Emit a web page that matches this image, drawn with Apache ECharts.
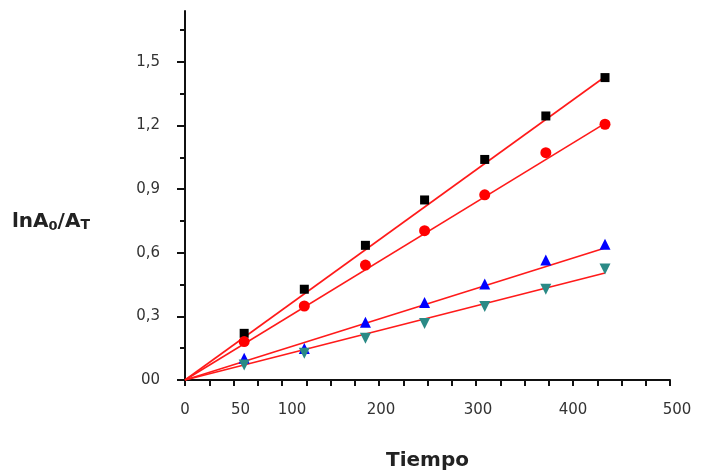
<!DOCTYPE html>
<html>
<head>
<meta charset="utf-8">
<script src="https://cdn.jsdelivr.net/npm/echarts@6/dist/echarts.min.js"></script>
<style>html,body{margin:0;padding:0;background:#fff}#c{width:712px;height:472px}</style>
</head>
<body>
<div id="c"></div>
<script>
const times = [61, 123, 186, 247, 309, 372, 433];
const seriesSquare = [0.22, 0.428, 0.635, 0.849, 1.04, 1.245, 1.426];
const seriesCircle = [0.181, 0.349, 0.542, 0.704, 0.873, 1.072, 1.206];
const seriesTriUp = [0.102, 0.149, 0.272, 0.366, 0.453, 0.566, 0.64];
const seriesTriDown = [0.071, 0.126, 0.197, 0.267, 0.346, 0.428, 0.524];
const fitX = [0, 433];
const fit1 = [0, 1.43];
const fit2 = [0, 1.21];
const fit3 = [0, 0.622];
const fit4 = [0, 0.505];
const xTickValues = [0,25,50,75,100,125,150,175,200,225,250,275,300,325,350,375,400,425,450,475,500];
const xLabelValues = [0, 50, 100, 200, 300, 400, 500];
const yMajorTicks = [0, 0.3, 0.6, 0.9, 1.2, 1.5];
const yMinorTicks = [0.15, 0.45, 0.75, 1.05, 1.35, 1.65];
const yLabels = ['00', '0,3', '0,6', '0,9', '1,2', '1,5'];

const zip = (xs, ys) => xs.map((x, i) => [x, ys[i]]);
const chart = echarts.init(document.getElementById('c'));
const font = 'DejaVu Sans';
const fitStyle = { color: '#ff1a1a', width: 1.6 };
// label nudges mimic the reference's slightly offset tick labels
const xShift = { 0: 0, 50: 14, 100: 20, 200: 4, 300: 4, 400: 0, 500: 14 };
const xLabelRich = {};
Object.keys(xShift).forEach(k => {
  xLabelRich['l' + k] = { fontFamily: font, fontSize: 15, color: '#333', padding: [0, 0, 0, xShift[k]] };
});
chart.setOption({
  animation: false,
  grid: { left: 185, right: 42, top: 11, bottom: 92 },
  xAxis: {
    type: 'value', min: 0, max: 500,
    axisLine: { show: true, lineStyle: { color: '#111', width: 2 } },
    axisTick: { show: true, customValues: xTickValues, length: 6, lineStyle: { color: '#111', width: 2 } },
    axisLabel: {
      customValues: xLabelValues, margin: 23, color: '#333', fontFamily: font, fontSize: 15,
      formatter: v => '{l' + v + '|' + v + '}', rich: xLabelRich
    },
    splitLine: { show: false }
  },
  yAxis: [{
    type: 'value', min: 0, max: 1.74,
    axisLine: { show: true, lineStyle: { color: '#111', width: 2 } },
    axisTick: { show: true, customValues: yMajorTicks, length: 8, lineStyle: { color: '#111', width: 2 } },
    axisLabel: {
      customValues: yMajorTicks, margin: 25, color: '#333', fontFamily: font, fontSize: 15,
      formatter: v => yLabels[yMajorTicks.findIndex(t => Math.abs(t - v) < 1e-6)] ?? ''
    },
    splitLine: { show: false }
  }, {
    type: 'value', min: 0, max: 1.74, position: 'left',
    axisLine: { show: false },
    axisTick: { show: true, customValues: yMinorTicks, length: 5, lineStyle: { color: '#111', width: 2 } },
    axisLabel: { show: false },
    splitLine: { show: false }
  }],
  series: [
    { type: 'line', data: zip(fitX, fit1), symbol: 'none', lineStyle: fitStyle, z: 1 },
    { type: 'line', data: zip(fitX, fit2), symbol: 'none', lineStyle: fitStyle, z: 1 },
    { type: 'line', data: zip(fitX, fit3), symbol: 'none', lineStyle: fitStyle, z: 1 },
    { type: 'line', data: zip(fitX, fit4), symbol: 'none', lineStyle: fitStyle, z: 1 },
    { type: 'scatter', data: zip(times, seriesSquare), symbol: 'rect', symbolSize: 9, itemStyle: { color: '#000', opacity: 1 }, z: 3 },
    { type: 'scatter', data: zip(times, seriesCircle), symbol: 'circle', symbolSize: 11, itemStyle: { color: '#ff0000', opacity: 1 }, z: 3 },
    { type: 'scatter', data: zip(times, seriesTriUp), symbol: 'triangle', symbolSize: 11, itemStyle: { color: '#0000ff', opacity: 1 }, z: 3 },
    { type: 'scatter', data: zip(times, seriesTriDown), symbol: 'triangle', symbolRotate: 180, symbolSize: 11, itemStyle: { color: '#2a8a86', opacity: 1 }, z: 3 }
  ],
  graphic: [
    { type: 'text', left: 12, top: 212, style: {
      text: '{a|lnA}{s|0}{a|/A}{t|T}',
      rich: {
        a: { fontFamily: font, fontWeight: 'bold', fontSize: 20, fill: '#222' },
        s: { fontFamily: font, fontWeight: 'bold', fontSize: 13, fill: '#222', padding: [9, 0, 0, 0] },
        t: { fontFamily: font, fontWeight: 'bold', fontSize: 14, fill: '#222', padding: [7, 0, 0, 0] }
      }
    } },
    { type: 'text', left: 386, top: 451, style: { text: 'Tiempo', fontFamily: font, fontWeight: 'bold', fontSize: 20, fill: '#222' } }
  ]
});
</script>
</body>
</html>
